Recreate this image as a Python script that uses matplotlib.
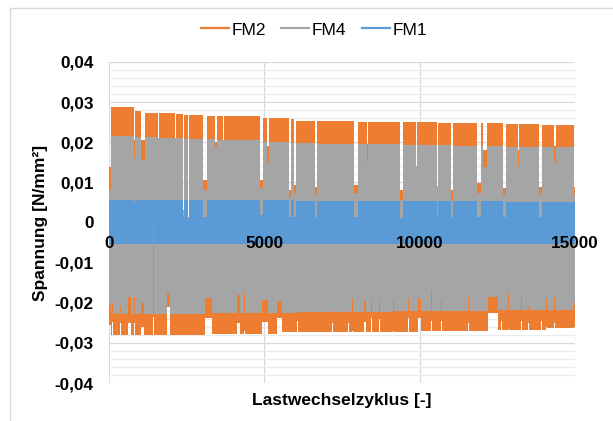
import matplotlib
matplotlib.use("Agg")
import matplotlib.pyplot as plt
from matplotlib.patches import Rectangle
from matplotlib.ticker import FuncFormatter, MultipleLocator
from matplotlib.lines import Line2D

plt.rcParams['font.family'] = ['Liberation Sans', 'DejaVu Sans']

# ---------------- data ----------------
series_names = ["FM2", "FM4", "FM1"]
series_colors = ["#ED7D31", "#A5A5A5", "#5B9BD5"]

x_end = 15000

# upper envelope: window start cycle -> max stress of each sensor in that window
upper_x = [0, 65, 790, 839, 1032, 1145, 1581, 1613, 2129, 2161, 2371, 2419,
           2548, 2581, 3016, 3145, 3419, 3484, 3677, 3710, 4855, 4945, 5087,
           5139, 5784, 5862, 5945, 6032, 6645, 6700, 7881, 8023, 8313, 8345,
           9355, 9475, 9871, 9903, 10571, 10603, 11000, 11087, 11861, 11990,
           12052, 12181, 12668, 12774, 13152, 13203, 13849, 13936, 14333,
           14378, 14958]
fm2_hi = [0.0138, 0.0287, 0.0206, 0.0277, 0.0206, 0.0274, 0.0210, 0.0272,
          0.0211, 0.0270, 0.0031, 0.0268, 0.0014, 0.0267, 0.0106, 0.0266,
          0.0200, 0.0265, 0.0206, 0.0265, 0.0106, 0.0261, 0.0190, 0.0260,
          0.0081, 0.0257, 0.0094, 0.0254, 0.0089, 0.0252, 0.0094, 0.0251,
          0.0195, 0.0251, 0.0081, 0.0250, 0.0140, 0.0250, 0.0090, 0.0249,
          0.0081, 0.0248, 0.0098, 0.0248, 0.0180, 0.0247, 0.0085, 0.0246,
          0.0180, 0.0245, 0.0089, 0.0243, 0.0190, 0.0242, 0.0089]
fm4_hi = [0.0080, 0.0216, 0.0160, 0.0214, 0.0156, 0.0213, 0.0210, 0.0211,
          0.0211, 0.0210, 0.0028, 0.0209, 0.0013, 0.0208, 0.0080, 0.0207,
          0.0185, 0.0206, 0.0206, 0.0205, 0.0085, 0.0201, 0.0148, 0.0200,
          0.0064, 0.0198, 0.0073, 0.0197, 0.0069, 0.0196, 0.0073, 0.0195,
          0.0150, 0.0195, 0.0056, 0.0194, 0.0140, 0.0193, 0.0090, 0.0192,
          0.0056, 0.0191, 0.0073, 0.0190, 0.0139, 0.0190, 0.0069, 0.0189,
          0.0140, 0.0189, 0.0069, 0.0188, 0.0150, 0.0188, 0.0069]
fm1_hi = [0.0056, 0.0056, 0.0050, 0.0056, 0.0056, 0.0056, 0.0056, 0.0056,
          0.0056, 0.0056, 0.0015, 0.0056, 0.0012, 0.0056, 0.0013, 0.0056,
          0.0056, 0.0056, 0.0056, 0.0056, 0.0019, 0.0055, 0.0055, 0.0055,
          0.0014, 0.0055, 0.0014, 0.0054, 0.0014, 0.0054, 0.0014, 0.0054,
          0.0054, 0.0054, 0.0011, 0.0053, 0.0053, 0.0053, 0.0015, 0.0053,
          0.0013, 0.0053, 0.0013, 0.0053, 0.0053, 0.0053, 0.0013, 0.0052,
          0.0052, 0.0052, 0.0014, 0.0052, 0.0052, 0.0052, 0.0052]

# lower envelope: window start cycle -> min stress of each sensor in that window
lower_x = [0, 65, 97, 130, 355, 390, 613, 700, 790, 839, 1032, 1130, 1420,
           1435, 1871, 1968, 3080, 3300, 4129, 4226, 4355, 4390, 4935, 5129,
           5420, 5581, 6065, 6097, 7194, 7226, 7678, 7710, 7807, 7839, 8194,
           8258, 8420, 8452, 8678, 8710, 9130, 9162, 9613, 9645, 9936, 10033,
           10355, 10387, 10678, 10710, 11549, 11581, 12194, 12388, 12400,
           12517, 12549, 12560, 12613, 12645, 12839, 12871, 13258, 13290,
           13484, 13516, 13904, 13936, 14065, 14097, 14323, 14355, 14645,
           14660, 14968]
fm2_lo = [-0.0255, -0.0280, -0.0247, -0.0280, -0.0250, -0.0280, -0.0250,
          -0.0280, -0.0250, -0.0280, -0.0260, -0.0280, -0.0235, -0.0280,
          -0.0210, -0.0280, -0.0238, -0.0278, -0.0250, -0.0278, -0.0270,
          -0.0278, -0.0247, -0.0278, -0.0238, -0.0274, -0.0245, -0.0274,
          -0.0250, -0.0274, -0.0250, -0.0272, -0.0270, -0.0272, -0.0247,
          -0.0272, -0.0238, -0.0272, -0.0240, -0.0272, -0.0270, -0.0272,
          -0.0238, -0.0272, -0.0238, -0.0270, -0.0245, -0.0270, -0.0245,
          -0.0270, -0.0250, -0.0270, -0.0226, -0.0226, -0.0226, -0.0267,
          -0.0240, -0.0267, -0.0245, -0.0267, -0.0265, -0.0267, -0.0245,
          -0.0267, -0.0250, -0.0267, -0.0245, -0.0267, -0.0260, -0.0264,
          -0.0250, -0.0264, -0.0250, -0.0264, -0.0260]
fm4_lo = [-0.0206, -0.0229, -0.0200, -0.0229, -0.0210, -0.0229, -0.0185,
          -0.0229, -0.0185, -0.0229, -0.0200, -0.0229, -0.0008, -0.0229,
          -0.0176, -0.0229, -0.0188, -0.0226, -0.0180, -0.0226, -0.0176,
          -0.0226, -0.0193, -0.0226, -0.0195, -0.0226, -0.0220, -0.0222,
          -0.0221, -0.0222, -0.0220, -0.0222, -0.0190, -0.0222, -0.0195,
          -0.0222, -0.0190, -0.0222, -0.0195, -0.0222, -0.0190, -0.0221,
          -0.0190, -0.0221, -0.0190, -0.0221, -0.0170, -0.0221, -0.0190,
          -0.0221, -0.0185, -0.0221, -0.0185, -0.0008, -0.0185, -0.0219,
          -0.0008, -0.0219, -0.0210, -0.0219, -0.0176, -0.0219, -0.0183,
          -0.0219, -0.0210, -0.0219, -0.0210, -0.0219, -0.0190, -0.0219,
          -0.0188, -0.0218, -0.0008, -0.0218, -0.0200]
fm1_lo = [-0.0053, -0.0053, -0.0053, -0.0053, -0.0053, -0.0053, -0.0053,
          -0.0053, -0.0053, -0.0053, -0.0053, -0.0053, -0.0008, -0.0053,
          -0.0053, -0.0053, -0.0053, -0.0053, -0.0053, -0.0053, -0.0053,
          -0.0053, -0.0053, -0.0053, -0.0053, -0.0053, -0.0053, -0.0053,
          -0.0053, -0.0053, -0.0053, -0.0053, -0.0053, -0.0053, -0.0053,
          -0.0053, -0.0053, -0.0053, -0.0053, -0.0053, -0.0053, -0.0053,
          -0.0053, -0.0053, -0.0053, -0.0053, -0.0053, -0.0053, -0.0053,
          -0.0053, -0.0053, -0.0053, -0.0053, -0.0008, -0.0053, -0.0053,
          -0.0008, -0.0053, -0.0053, -0.0053, -0.0053, -0.0053, -0.0053,
          -0.0053, -0.0053, -0.0053, -0.0053, -0.0053, -0.0053, -0.0053,
          -0.0053, -0.0053, -0.0008, -0.0053, -0.0053]

y_ticks = [-0.04, -0.03, -0.02, -0.01, 0.0, 0.01, 0.02, 0.03, 0.04]
x_ticks = [0, 5000, 10000, 15000]

# ---------------- figure ----------------
W, H = 613, 421
fig = plt.figure(figsize=(W / 100, H / 100), dpi=100)
fig.patch.set_facecolor("white")

# chart-area border (Excel)
fig.add_artist(Rectangle((10 / W, -0.1), 1.2, 1.1 - 8 / H, transform=fig.transFigure,
                         fill=False, edgecolor="#D9D9D9", lw=1.0))

pos = [109 / W, (H - 383) / H, (575 - 109) / W, (383 - 62) / H]
ax = fig.add_axes(pos)
ax.set_xlim(0, x_end)
ax.set_ylim(-0.04, 0.04)

his = [fm2_hi, fm4_hi, fm1_hi]
los = [fm2_lo, fm4_lo, fm1_lo]
ux = upper_x + [x_end]
lx = lower_x + [x_end]
for name, col, hi, lo in zip(series_names, series_colors, his, los):
    ax.fill_between(ux, 0, hi + [hi[-1]], step="post", color=col, lw=0, zorder=2)
    ax.fill_between(lx, lo + [lo[-1]], 0, step="post", color=col, lw=0, zorder=2)

ax.set_yticks(y_ticks)
ax.yaxis.set_minor_locator(MultipleLocator(0.002))
ax.set_xticks(x_ticks)
ax.grid(True, which="major", color="#D9D9D9", lw=0.9, zorder=0)
ax.grid(True, which="minor", axis="y", color="#EBEBEB", lw=0.8, zorder=0)
ax.set_axisbelow(True)
for s in ax.spines.values():
    s.set_visible(False)


def yfmt(v, p):
    if abs(v) < 1e-12:
        return "0"
    return f"{v:.2f}".replace(".", ",")


ax.yaxis.set_major_formatter(FuncFormatter(yfmt))
ax.tick_params(axis="y", which="both", length=0, pad=11, labelsize=12.3)
ax.tick_params(axis="x", which="both", length=0, labelbottom=False)
for t in ax.get_yticklabels():
    t.set_fontweight("bold")

ax.set_ylabel("Spannung [N/mm²]", fontsize=12.5, fontweight="bold", labelpad=5)

# overlay axis for the x tick labels at y = 0 (drawn above the data, like Excel)
ax2 = fig.add_axes(pos, sharex=ax, label="xaxis_overlay")
ax2.set_ylim(ax.get_ylim())
ax2.patch.set_visible(False)
for k, s in ax2.spines.items():
    s.set_visible(False)
ax2.spines["bottom"].set_position(("data", 0))
ax2.yaxis.set_visible(False)
ax2.set_xticks(x_ticks)
ax2.set_xticklabels([str(v) for v in x_ticks])
ax2.tick_params(axis="x", length=0, pad=9.5, labelsize=12.3)
for t in ax2.get_xticklabels():
    t.set_fontweight("bold")
ax2.set_zorder(ax.get_zorder() + 1)

fig.text((109 + 575) / 2 / W, 1 - 401 / H, "Lastwechselzyklus [-]", ha="center",
         va="center", fontsize=12.5, fontweight="bold")

handles = [Line2D([], [], color=c, lw=1.6) for c in series_colors]
fig.legend(handles, series_names, loc="center", bbox_to_anchor=(314 / W, 1 - 30 / H),
           ncol=3, frameon=False, fontsize=12.5, handlelength=1.6, handletextpad=0.15,
           columnspacing=0.9)

fig.savefig("out.png", dpi=100)
